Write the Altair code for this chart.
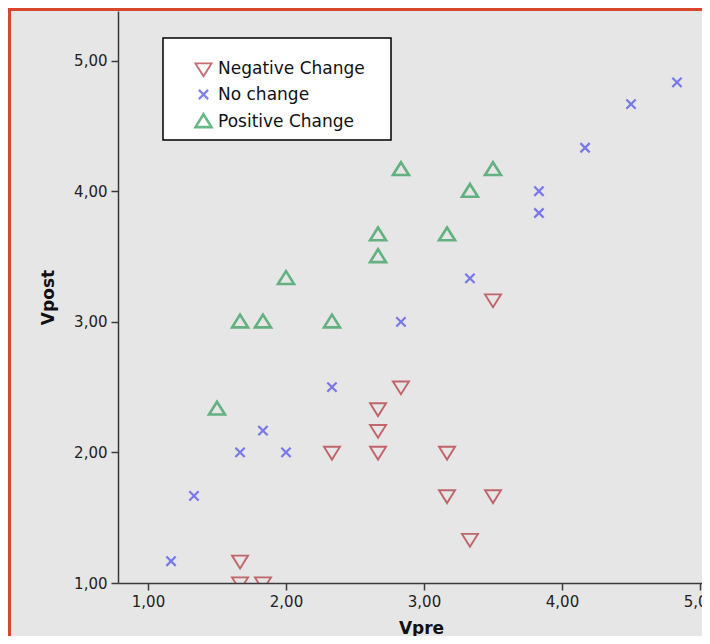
import altair as alt
import pandas as pd

# ---- data ----
categories = ["Negative Change", "No change", "Positive Change"]

neg_x = [1.667, 1.667, 1.833, 2.333, 2.667, 2.667, 2.667, 2.833, 3.167, 3.167, 3.5, 3.333, 3.5]
neg_y = [1.167, 1.0, 1.0, 2.0, 2.333, 2.167, 2.0, 2.5, 2.0, 1.667, 1.667, 1.333, 3.167]

no_x = [1.167, 1.333, 1.667, 1.833, 2.0, 2.333, 2.833, 3.333, 3.833, 3.833, 4.167, 4.5, 4.833]
no_y = [1.167, 1.667, 2.0, 2.167, 2.0, 2.5, 3.0, 3.333, 4.0, 3.833, 4.333, 4.667, 4.833]

pos_x = [1.5, 1.667, 1.833, 2.0, 2.333, 2.667, 2.667, 2.833, 3.167, 3.333, 3.5]
pos_y = [2.333, 3.0, 3.0, 3.333, 3.0, 3.667, 3.5, 4.167, 3.667, 4.0, 4.167]

tick_values = [1, 2, 3, 4, 5]

rows = []
for cat, xs, ys in zip(categories, [neg_x, no_x, pos_x], [neg_y, no_y, pos_y]):
    for a, b in zip(xs, ys):
        rows.append({"Vpre": a, "Vpost": b, "group": cat})
df = pd.DataFrame(rows)

shapes = [
    "M-1,-0.7L1,-0.7L0,0.9Z",
    "M-0.58,-0.58L0.58,0.58M-0.58,0.58L0.58,-0.58",
    "M-1,0.7L1,0.7L0,-0.9Z",
]
colors = ["#b02f37", "#4a4aee", "#2c9a56"]

label_expr = "replace(format(datum.value, '.2f'), '.', ',')"
FONT = "DejaVu Sans"

border = alt.Chart(pd.DataFrame({"d": [0]})).mark_rect(
    fill=None, stroke="#d8462b", strokeWidth=3, clip=False
).encode(
    x=alt.value(-108.5), x2=alt.value(700), y=alt.value(-1.5), y2=alt.value(700)
)

legend_box = alt.Chart(pd.DataFrame({"d": [0]})).mark_rect(
    fill="white", stroke="black", strokeWidth=1.5, clip=False
).encode(
    x=alt.value(45), x2=alt.value(273), y=alt.value(27), y2=alt.value(129)
)

leg = dict(
    title=None, orient="none", legendX=76, legendY=49, padding=0,
    labelFontSize=17, labelFont=FONT, labelColor="#111",
    symbolSize=256, symbolStrokeWidth=1.7, rowPadding=5, labelOffset=5,
)

points = alt.Chart(df).mark_point(filled=False, clip=True, size=256).encode(
    x=alt.X(
        "Vpre:Q",
        scale=alt.Scale(domain=[0.7826, 5.0145], nice=False, zero=False),
        axis=alt.Axis(
            values=tick_values, labelExpr=label_expr, title="Vpre",
            titleX=303, titleY=50, titleBaseline="alphabetic", titleAlign="center",
        ),
    ),
    y=alt.Y(
        "Vpost:Q",
        scale=alt.Scale(domain=[1.0, 5.38], nice=False, zero=False),
        axis=alt.Axis(
            values=tick_values, labelExpr=label_expr, title="Vpost",
            titleX=-69.5, titleY=286, titleAngle=270, titleBaseline="middle",
            titleAlign="center",
        ),
    ),
    shape=alt.Shape(
        "group:N",
        scale=alt.Scale(domain=categories, range=shapes),
        legend=alt.Legend(**leg),
    ),
    color=alt.Color(
        "group:N",
        scale=alt.Scale(domain=categories, range=colors),
        legend=alt.Legend(**leg),
    ),
    strokeWidth=alt.StrokeWidth(
        "group:N",
        scale=alt.Scale(domain=categories, range=[1.9, 2.6, 1.9]),
        legend=None,
    ),
)

chart = alt.layer(border, legend_box, points).properties(
    width=584,
    height=572,
    padding={"left": 110, "top": 3, "right": 0, "bottom": 53},
    autosize=alt.AutoSizeParams(type="none"),
    background="#e6e6e6",
).configure_view(
    stroke=None, fill="#e6e6e6"
).configure_axis(
    grid=False,
    domainColor="#3a3a3a",
    domainWidth=1.5,
    tickColor="#3a3a3a",
    tickWidth=1.5,
    tickSize=7,
    labelFont=FONT,
    labelFontSize=15,
    labelColor="#222",
    labelPadding=4,
    titleFont=FONT,
    titleFontSize=17,
    titleFontWeight="bold",
    titleColor="#111",
)

chart.save("out.html", embed_options={"renderer": "svg", "actions": False})
